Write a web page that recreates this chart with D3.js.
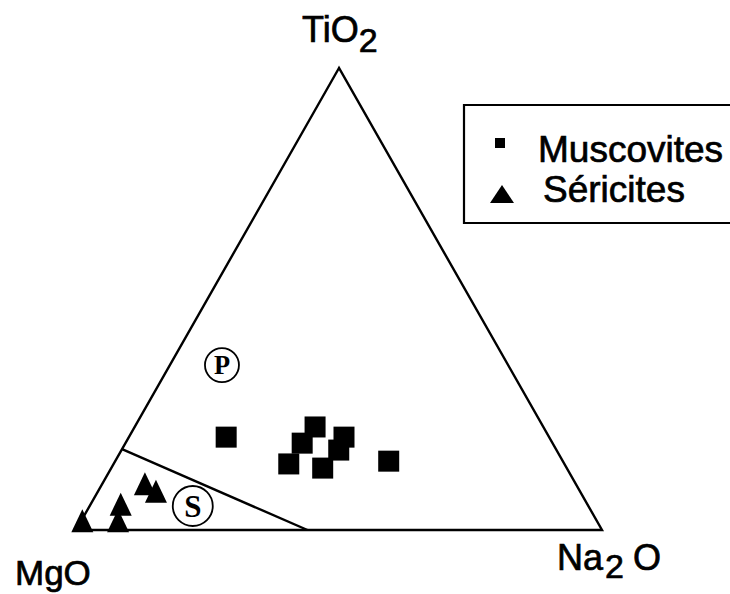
<!DOCTYPE html>
<html>
<head>
<meta charset="utf-8">
<script src="https://cdn.jsdelivr.net/npm/d3@7"></script>
<style>
  body { margin: 0; background: #fff; }
  svg { display: block; font-family: "Liberation Sans", Arial, sans-serif; }
  .lbl { stroke: #000; stroke-width: 0.7; }
</style>
</head>
<body>
<script>
// ternary compositions, fractions of [TiO2, MgO, Na2O]
const muscovites = [
  [0.201, 0.614, 0.185],
  [0.223, 0.434, 0.343],
  [0.188, 0.476, 0.336],
  [0.201, 0.390, 0.409],
  [0.173, 0.414, 0.413],
  [0.143, 0.524, 0.333],
  [0.134, 0.464, 0.402],
  [0.149, 0.331, 0.520]
];
const sericites = [
  [0.100, 0.819, 0.081],
  [0.084, 0.806, 0.110],
  [0.056, 0.887, 0.057],
  [0.020, 0.910, 0.070],
  [0.020, 0.978, 0.002]
];
// boundary between fields P and S
const boundary = [[0.175, 0.825, 0], [0, 0.56, 0.44]];
const fieldLabels = [
  {name: "P", comp: [0.357, 0.544, 0.099], r: 17},
  {name: "S", comp: [0.052, 0.752, 0.196], r: 20}
];
const legendItems = ["Muscovites", "Séricites"];

const width = 730, height = 594;
const svg = d3.select("body").append("svg")
  .attr("width", width).attr("height", height);

// horizontal position = Na2O + TiO2/2, vertical = TiO2
const x = d3.scaleLinear().domain([0, 1]).range([76, 602]);
const y = d3.scaleLinear().domain([0, 1]).range([530, 68]);
const proj = c => [x(c[2] + c[0] / 2), y(c[0])];

const line = d3.line();

// outer triangle
const corners = [[1, 0, 0], [0, 1, 0], [0, 0, 1]].map(proj);
svg.append("path")
  .attr("d", line(corners) + "Z")
  .attr("fill", "none").attr("stroke", "#000").attr("stroke-width", 2.4)
  .attr("stroke-linejoin", "miter");

svg.append("path")
  .attr("d", line(boundary.map(proj)))
  .attr("fill", "none").attr("stroke", "#000").attr("stroke-width", 2.4);

// field labels
const fl = svg.selectAll("g.field").data(fieldLabels).enter().append("g")
  .attr("transform", d => `translate(${proj(d.comp)})`);
fl.append("circle").attr("r", d => d.r)
  .attr("fill", "#fff").attr("stroke", "#000").attr("stroke-width", 1.8);
fl.append("text").text(d => d.name)
  .attr("text-anchor", "middle").attr("dy", "0.35em")
  .attr("font-family", "Liberation Serif, serif").attr("font-weight", "bold")
  .attr("font-size", d => d.r * 1.55);

// markers
const sq = 21;
svg.selectAll("rect.musc").data(muscovites).enter().append("rect")
  .attr("class", "musc")
  .attr("x", d => proj(d)[0] - sq / 2).attr("y", d => proj(d)[1] - sq / 2)
  .attr("width", sq).attr("height", sq).attr("fill", "#000");

const tri = (w, h) => `M0,${-h / 2}L${w / 2},${h / 2}L${-w / 2},${h / 2}Z`;
svg.selectAll("path.ser").data(sericites).enter().append("path")
  .attr("class", "ser")
  .attr("transform", d => `translate(${proj(d)})`)
  .attr("d", tri(22, 23)).attr("fill", "#000");

// axis labels
const t1 = svg.append("text").attr("class", "lbl").attr("x", 302).attr("y", 42).attr("font-size", 36);
t1.append("tspan").text("TiO");
t1.append("tspan").text("2").attr("font-size", 34).attr("dy", 10);

svg.append("text").attr("class", "lbl").attr("x", 15).attr("y", 585).attr("font-size", 35).text("MgO");

const t3 = svg.append("text").attr("class", "lbl").attr("font-size", 36);
t3.append("tspan").attr("x", 557).attr("y", 570).text("Na");
t3.append("tspan").attr("x", 605).attr("y", 578).attr("font-size", 34).text("2");
t3.append("tspan").attr("x", 633).attr("y", 570).text("O");

// legend
const lg = svg.append("g");
lg.append("path")
  .attr("d", "M731,105H464V223H731")
  .attr("fill", "none").attr("stroke", "#000").attr("stroke-width", 2.2);
lg.append("rect").attr("x", 495).attr("y", 138).attr("width", 10).attr("height", 10).attr("fill", "#000");
lg.append("path").attr("transform", "translate(502,194)").attr("d", tri(24, 18)).attr("fill", "#000");
lg.selectAll("text").data(legendItems).enter().append("text")
  .attr("class", "lbl")
  .attr("x", (d, i) => i === 0 ? 538 : 543)
  .attr("y", (d, i) => 162 + i * 40)
  .attr("font-size", 37)
  .text(d => d);
</script>
</body>
</html>
